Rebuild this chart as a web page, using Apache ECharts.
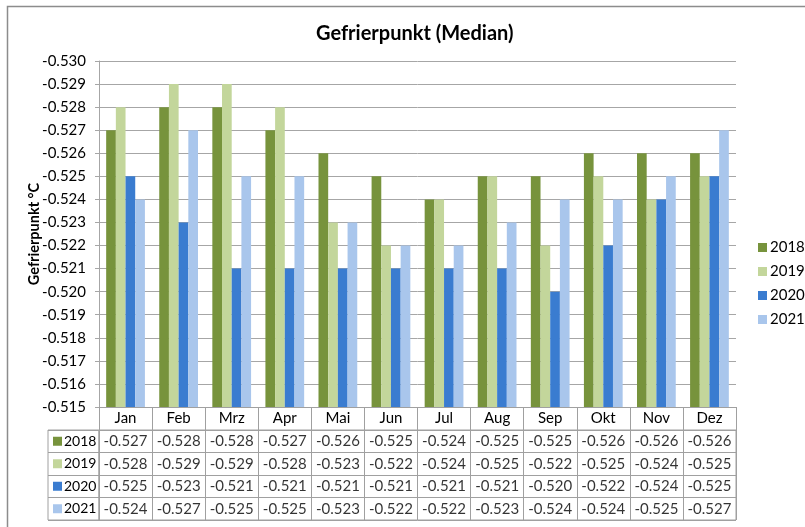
<!DOCTYPE html>
<html>
<head>
<meta charset="utf-8">
<script src="https://cdn.jsdelivr.net/npm/echarts@6/dist/echarts.min.js"></script>
<style>
html,body{margin:0;padding:0;background:#fff;}
#c{width:805px;height:527px;}
</style>
</head>
<body>
<div id="c"></div>
<script>
const months = ['Jan','Feb','Mrz','Apr','Mai','Jun','Jul','Aug','Sep','Okt','Nov','Dez'];
const years = ['2018','2019','2020','2021'];
const v2018 = [-0.527,-0.528,-0.528,-0.527,-0.526,-0.525,-0.524,-0.525,-0.525,-0.526,-0.526,-0.526];
const v2019 = [-0.528,-0.529,-0.529,-0.528,-0.523,-0.522,-0.524,-0.525,-0.522,-0.525,-0.524,-0.525];
const v2020 = [-0.525,-0.523,-0.521,-0.521,-0.521,-0.521,-0.521,-0.521,-0.520,-0.522,-0.524,-0.525];
const v2021 = [-0.524,-0.527,-0.525,-0.525,-0.523,-0.522,-0.522,-0.523,-0.524,-0.524,-0.525,-0.527];
const yMin = -0.530, yMax = -0.515, yStep = 0.001;
const colors = ['#77933C','#C3D69B','#3A7CD0','#A9C6EC'];

const seriesValues = [v2018, v2019, v2020, v2021];
const FONT = 'Lato';
const FS = 15;
const gridColor = '#a6a6a6';
const tableColor = '#a0a0a0';

const barSeries = years.map((y, i) => ({
  name: y, type: 'bar', xAxisIndex: 0, yAxisIndex: 0,
  data: seriesValues[i], clip: true,
  barGap: '0%', barCategoryGap: '27%',
  itemStyle: {color: colors[i]}
}));

const tableData = [];
seriesValues.forEach((arr, r) => arr.forEach((v, c) => tableData.push([c, r, v])));

const rich = {t: {fontFamily: FONT, fontSize: 14, color: '#000', padding: [0,0,0,2]}};
colors.forEach((c, i) => { rich['s' + i] = {width: 9, height: 9, backgroundColor: c}; });

const chart = echarts.init(document.getElementById('c'), null, {renderer: 'canvas'});
chart.setOption({
  animation: false,
  backgroundColor: '#fff',
  textStyle: {fontFamily: FONT},
  title: {text: 'Gefrierpunkt (Median)', left: 311, top: 19,
    textStyle: {fontFamily: FONT, fontSize: 20, fontWeight: 'bold', color: '#000'}},
  legend: {orient: 'vertical', left: 753, top: 235, itemWidth: 9, itemHeight: 9, itemGap: 9,
    icon: 'rect', padding: 5,
    textStyle: {fontFamily: FONT, fontSize: FS, color: '#000', padding: [0,0,0,-2]},
    data: years},
  graphic: [{type: 'polyline', shape: {points: [[7.5, 540], [7.5, 6.5], [820, 6.5]]},
    style: {stroke: '#8c8c8c', lineWidth: 1.5, fill: null}, silent: true}],
  grid: [
    {left: 99, top: 61, width: 637, height: 346, containLabel: false},
    {left: 99, top: 430, width: 637, height: 90, show: true, borderColor: tableColor, borderWidth: 1},
    {left: 48, top: 430, width: 51, height: 90, show: true, borderColor: tableColor, borderWidth: 1}
  ],
  xAxis: [
    {gridIndex: 0, type: 'category', data: months, boundaryGap: true,
      axisLine: {show: true, lineStyle: {color: tableColor}},
      axisTick: {show: true, length: 23, interval: 0, lineStyle: {color: tableColor}},
      axisLabel: {fontFamily: FONT, fontSize: FS, color: '#000', margin: 4, interval: 0},
      splitLine: {show: false}},
    {gridIndex: 1, type: 'category', data: months, boundaryGap: true,
      axisLine: {show: false}, axisTick: {show: false}, axisLabel: {show: false},
      splitLine: {show: true, interval: 0, lineStyle: {color: tableColor}}},
    {gridIndex: 2, type: 'category', data: [''], show: false}
  ],
  yAxis: [
    {gridIndex: 0, type: 'value', min: yMin, max: yMax, interval: yStep, inverse: true,
      name: 'Gefrierpunkt °C', nameLocation: 'middle', nameGap: 57, nameRotate: 90,
      nameMoveOverlap: false,
      nameTextStyle: {fontFamily: FONT, fontSize: 14.5, fontWeight: 'bold', color: '#000'},
      axisLine: {show: true, lineStyle: {color: gridColor}},
      axisTick: {show: true, length: 4, lineStyle: {color: gridColor}},
      axisLabel: {fontFamily: FONT, fontSize: FS, color: '#000', margin: 13,
        formatter: v => v.toFixed(3)},
      splitLine: {show: true, lineStyle: {color: gridColor}}},
    {gridIndex: 1, type: 'category', data: years, inverse: true, boundaryGap: true,
      axisLine: {show: false}, axisTick: {show: false}, axisLabel: {show: false},
      splitLine: {show: true, interval: 0, lineStyle: {color: tableColor}}},
    {gridIndex: 2, type: 'category', data: years, inverse: true, boundaryGap: true,
      axisLine: {show: false}, axisTick: {show: false},
      axisLabel: {inside: true, margin: 5, align: 'left', interval: 0,
        formatter: (v, i) => '{s' + i + '|}{t|' + v + '}', rich: rich},
      splitLine: {show: true, interval: 0, lineStyle: {color: tableColor}}}
  ],
  series: barSeries.concat([{
    type: 'scatter', xAxisIndex: 1, yAxisIndex: 1, symbolSize: 0, silent: true,
    data: tableData,
    label: {show: true, position: 'inside', fontFamily: FONT, fontSize: FS, color: '#000',
      formatter: p => p.value[2].toFixed(3)}
  }])
});
</script>
</body>
</html>
